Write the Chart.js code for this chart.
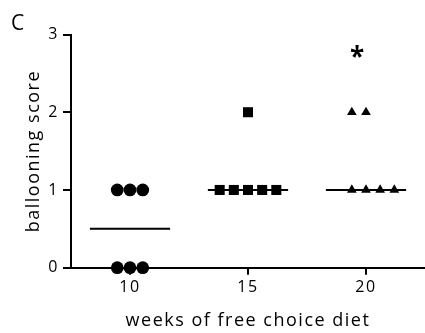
<!DOCTYPE html>
<html>
<head>
<meta charset="utf-8">
<script src="https://cdn.jsdelivr.net/npm/chart.js@4/dist/chart.umd.min.js"></script>
<style>
  html, body { margin: 0; padding: 0; background: #fff; }
  #wrap { width: 425px; height: 333px; position: relative; }
</style>
</head>
<body>
<div id="wrap"><canvas id="c"></canvas></div>
<script>
// ---- data ----
const weeks = [10, 15, 20];
const scores10 = [1, 1, 1, 0, 0, 0];
const scores15 = [2, 1, 1, 1, 1, 1];
const scores20 = [2, 2, 1, 1, 1, 1];
// column slot of each point within its group (scatter arrangement)
const slots10 = [-1, 0, 1, -1, 0, 1];
const slots15 = [0, -2, -1, 0, 1, 2];
const slots20 = [-1, 0, -1, 0, 1, 2];
const yTicks = [0, 1, 2, 3];
const significance = ['', '', '*'];
const panelLabel = 'C';
const xTitle = 'weeks of free choice diet';
const yTitle = 'ballooning score';

// ---- build ----
const groups = [
  { week: weeks[0], scores: scores10, slots: slots10, style: 'circle', radius: 6.4, spacing: 0.54 },
  { week: weeks[1], scores: scores15, slots: slots15, style: 'rect', radius: 7.1, spacing: 0.6 },
  { week: weeks[2], scores: scores20, slots: slots20, style: 'triangle', radius: 5.6, spacing: 0.6 }
];
function median(a) {
  const s = [...a].sort((p, q) => p - q);
  const m = Math.floor(s.length / 2);
  return s.length % 2 ? s[m] : (s[m - 1] + s[m]) / 2;
}
const halfLine = 1.7;
const datasets = [];
groups.forEach(g => {
  const med = median(g.scores);
  datasets.push({
    type: 'line',
    data: [{ x: g.week - halfLine, y: med }, { x: g.week + halfLine, y: med }],
    borderColor: '#000', borderWidth: 2, pointRadius: 0, clip: false, order: 2
  });
  datasets.push({
    type: 'scatter',
    data: g.scores.map((v, i) => ({ x: g.week + g.slots[i] * g.spacing, y: v })),
    pointStyle: g.style, pointRadius: g.radius, pointHoverRadius: g.radius,
    backgroundColor: '#000', borderColor: '#000', borderWidth: 0, clip: false, order: 1
  });
});

const extras = {
  id: 'extras',
  beforeDraw(chart) {
    chart.ctx.letterSpacing = '1.5px';
  },
  afterDraw(chart) {
    const ctx = chart.ctx;
    const xs = chart.scales.x, ys = chart.scales.y;
    ctx.save();
    ctx.letterSpacing = '0px';
    ctx.fillStyle = '#000';
    ctx.font = '21px "Open Sans"';
    ctx.textBaseline = 'alphabetic';
    ctx.textAlign = 'left';
    ctx.fillText(panelLabel, 11, 30);
    ctx.font = 'bold 26px "Open Sans"';
    ctx.textAlign = 'center';
    ctx.textBaseline = 'middle';
    significance.forEach((s, i) => {
      if (!s) return;
      ctx.fillText(s, xs.getPixelForValue(weeks[i] - 0.38), ys.getPixelForValue(2.69));
    });
    ctx.restore();
  }
};

new Chart(document.getElementById('c'), {
  type: 'scatter',
  data: { datasets },
  options: {
    responsive: true,
    maintainAspectRatio: false,
    animation: false,
    events: [],
    layout: { autoPadding: false, padding: { top: 34.5, right: 0, bottom: 0, left: 0 } },
    plugins: { legend: { display: false }, tooltip: { enabled: false } },
    scales: {
      x: {
        type: 'linear', min: 7.5, max: 22.5,
        afterBuildTicks: s => { s.ticks = weeks.map(v => ({ value: v })); },
        afterFit: s => { s.height = 65.3; s.paddingLeft = 0; s.paddingRight = 0; },
        border: { display: true, color: '#000', width: 2 },
        grid: { drawOnChartArea: false, drawTicks: true, tickLength: 7, color: '#000', lineWidth: 2 },
        ticks: { color: '#000', font: { family: 'Open Sans', size: 16 }, padding: 3, maxRotation: 0 },
        title: { display: true, text: xTitle, color: '#000', font: { family: 'Open Sans', size: 18 }, padding: { top: 0, bottom: 1 } }
      },
      y: {
        type: 'linear', min: 0, max: 3,
        afterBuildTicks: s => { s.ticks = yTicks.map(v => ({ value: v })); },
        afterFit: s => { s.width = 71; },
        border: { display: true, color: '#000', width: 2 },
        grid: { drawOnChartArea: false, drawTicks: true, tickLength: 8, color: '#000', lineWidth: 2 },
        ticks: { color: '#000', font: { family: 'Open Sans', size: 16 }, padding: 4 },
        title: { display: true, text: yTitle, color: '#000', font: { family: 'Open Sans', size: 18 }, padding: { top: 23, bottom: 0 } }
      }
    }
  },
  plugins: [extras]
});
</script>
</body>
</html>
